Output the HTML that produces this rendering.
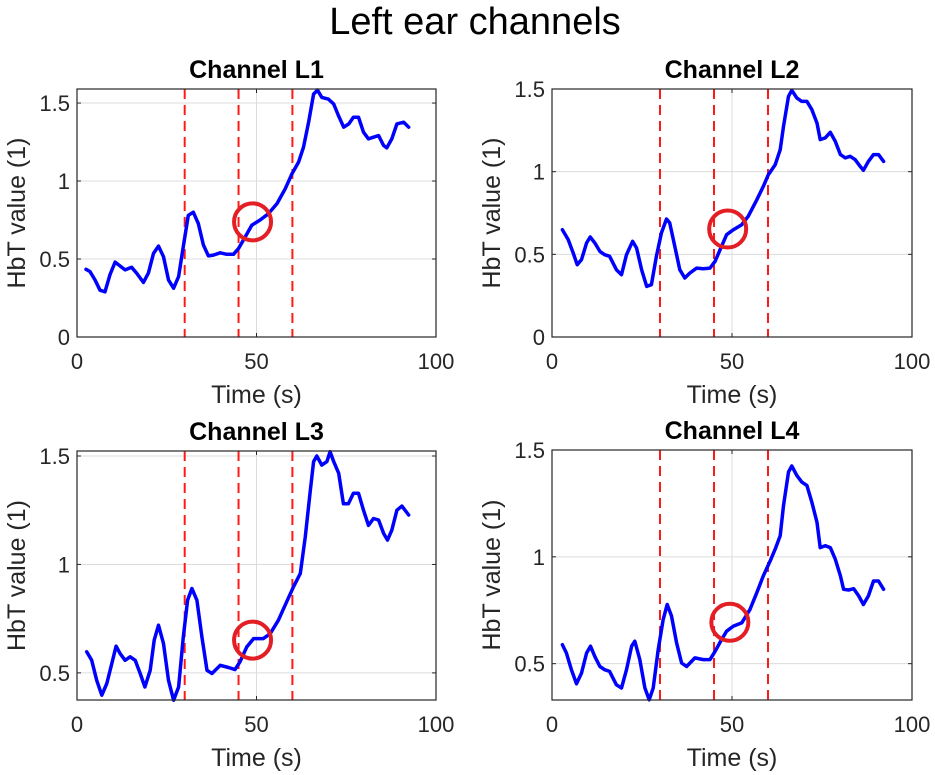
<!DOCTYPE html>
<html><head><meta charset="utf-8"><style>
html,body{margin:0;padding:0;background:#fff;}
svg{display:block;font-family:"Liberation Sans",Arial,sans-serif;}
</style></head><body>
<svg id="fig" width="935" height="775" viewBox="0 0 935 775">
<text x="475" y="34" text-anchor="middle" font-size="38" fill="#000">Left ear channels</text>
</svg>
<script>
const xTicks = [0, 50, 100];
const markers = [30, 45, 60];
// Channel L1
const l1Time = [2.5,3.6,5,6.4,7.8,9.2,10.6,12,13.4,15.2,16.6,18.5,19.9,21.3,22.7,24.1,25.5,26.9,28.3,29.6,31,32.4,33.8,35.2,36.6,38,39.9,41.7,43.6,45,46.8,48.7,51,53.3,55.7,58,59.9,61.7,63.1,64.5,65.9,67,68.2,70,71.5,72.8,74.3,75.7,77,78.4,79.8,81.2,82.6,84,85.4,86.3,87.7,89.1,91,92.4];
const l1Value = [0.434,0.42,0.366,0.3,0.29,0.4,0.48,0.455,0.43,0.447,0.41,0.35,0.41,0.536,0.583,0.515,0.366,0.313,0.387,0.58,0.78,0.8,0.728,0.59,0.52,0.525,0.54,0.53,0.53,0.568,0.64,0.717,0.75,0.79,0.855,0.95,1.047,1.12,1.217,1.377,1.557,1.583,1.536,1.525,1.494,1.42,1.345,1.366,1.409,1.409,1.313,1.27,1.281,1.291,1.228,1.213,1.27,1.366,1.377,1.345];
// Channel L2
const l2Time = [2.9,4.5,5.9,7,8.2,9.6,10.6,11.9,13.3,14.6,16,17.9,19.3,20.7,22.4,23.5,24.9,26.3,27.6,29,30.4,31.8,32.7,34.1,35.5,36.9,38.3,40.2,42,43.9,45.3,46.7,48.5,50.4,52.7,54.5,56.9,58.7,60.1,62,63.4,64.3,65.7,66.6,68,69.4,70.8,72.2,73.6,74.5,75.9,77.3,78.7,80.1,81.5,82.8,84.2,85.6,86.5,87.9,89.3,90.7,92.1];
const l2Value = [0.649,0.589,0.508,0.4375,0.468,0.569,0.605,0.569,0.518,0.498,0.488,0.407,0.377,0.498,0.579,0.538,0.407,0.306,0.3165,0.488,0.629,0.714,0.69,0.548,0.407,0.357,0.387,0.417,0.413,0.417,0.458,0.528,0.619,0.649,0.679,0.73,0.83,0.911,0.982,1.042,1.133,1.274,1.456,1.492,1.446,1.425,1.425,1.375,1.294,1.194,1.204,1.238,1.183,1.103,1.083,1.093,1.073,1.032,1.008,1.062,1.103,1.103,1.062];
// Channel L3
const l3Time = [2.7,4.1,5.5,6.9,8.3,9.7,10.9,12,13.4,14.8,16.2,17.6,18.9,20.4,21.5,22.7,24.1,25.5,26.9,28.3,29.6,30.8,32,33.4,34.8,36.2,37.6,39.9,42.2,44,45.4,47.3,49.2,51.9,53.8,56.1,58.4,60.3,62.2,63.6,64.9,65.9,66.8,68.2,69.6,70.5,71.5,72.9,74.2,75.6,77,78.4,79.8,81.2,82.6,84,85.4,86.5,87.7,89.1,90.5,92.4];
const l3Value = [0.597,0.558,0.466,0.397,0.451,0.543,0.623,0.589,0.558,0.574,0.558,0.497,0.435,0.512,0.651,0.72,0.635,0.466,0.374,0.435,0.666,0.835,0.889,0.835,0.666,0.512,0.497,0.535,0.525,0.515,0.551,0.62,0.658,0.658,0.68,0.743,0.828,0.897,0.958,1.128,1.328,1.474,1.5,1.458,1.474,1.52,1.474,1.42,1.28,1.28,1.328,1.328,1.25,1.18,1.212,1.205,1.143,1.112,1.158,1.25,1.269,1.228];
// Channel L4
const l4Time = [2.9,4,5.4,6.8,8.2,9.6,10.7,11.9,13.3,14.6,16,17.9,19.3,20.7,22.1,23,24.4,25.8,27,28.1,29.5,30.9,32,33.2,34.6,36,37.4,39.7,42,43.9,45.3,47.1,48.5,50.4,52.7,55,56.9,58.7,60.6,62,63.4,64.3,65.7,66.6,68,69.4,70.8,72.2,73.6,74.5,75.9,77.3,78.7,80.1,81,82.4,83.8,85.2,86.5,87.9,89.3,90.7,92.1];
const l4Value = [0.589,0.55,0.472,0.406,0.456,0.55,0.582,0.534,0.487,0.472,0.464,0.401,0.386,0.472,0.582,0.605,0.519,0.386,0.331,0.386,0.566,0.707,0.777,0.723,0.597,0.503,0.487,0.527,0.519,0.519,0.558,0.613,0.652,0.676,0.691,0.754,0.832,0.911,0.981,1.036,1.099,1.24,1.397,1.425,1.381,1.35,1.334,1.255,1.161,1.043,1.052,1.043,0.989,0.911,0.848,0.845,0.851,0.817,0.777,0.817,0.887,0.887,0.848];
const circleX = [48.9, 48.8, 48.9, 49.4];
const circleY = [0.738, 0.653, 0.651, 0.694];
const titles = ["Channel L1","Channel L2","Channel L3","Channel L4"];
const yTicks1 = [0, 0.5, 1, 1.5];
const yTicks2 = [0.5, 1, 1.5];

const NS = "http://www.w3.org/2000/svg";
const fig = document.getElementById("fig");
function mk(tag, attrs, parent){
  const e = document.createElementNS(NS, tag);
  for (const k in attrs) e.setAttribute(k, attrs[k]);
  (parent||fig).appendChild(e);
  return e;
}
const panels = [
  {l:77,r:436,t:89,b:337,y0:0,y1:1.59,ticks:yTicks1,tx:l1Time,ty:l1Value},
  {l:552,r:912,t:89,b:337,y0:0,y1:1.5,ticks:yTicks1,tx:l2Time,ty:l2Value},
  {l:77,r:436,t:451,b:700,y0:0.375,y1:1.523,ticks:yTicks2,tx:l3Time,ty:l3Value},
  {l:552,r:912,t:450,b:700,y0:0.33,y1:1.5,ticks:yTicks2,tx:l4Time,ty:l4Value}
];
panels.forEach((p, i) => {
  const g = mk("g", {});
  
  
  const sx = v => p.l + (v - 0) / 100 * (p.r - p.l);
  const sy = v => p.b - (v - p.y0) / (p.y1 - p.y0) * (p.b - p.t);
  xTicks.forEach(v => {
    const ln = mk("line", {x1:sx(v),x2:sx(v),y1:p.t,y2:p.b,stroke:"#dcdcdc","stroke-width":1}, g);
    
    
    const t = mk("text", {x:sx(v), y:p.b+32, "text-anchor":"middle","font-size":22,fill:"#262626"}, g);
    t.textContent = v;
    
    
    mk("line", {x1:sx(v),x2:sx(v),y1:p.b,y2:p.b-4,stroke:"#262626"}, g);
    mk("line", {x1:sx(v),x2:sx(v),y1:p.t,y2:p.t+4,stroke:"#262626"}, g);
  });
  p.ticks.forEach(v => {
    const ln = mk("line", {x1:p.l,x2:p.r,y1:sy(v),y2:sy(v),stroke:"#dcdcdc","stroke-width":1}, g);
    
    
    const t = mk("text", {x:p.l-7, y:sy(v)+8, "text-anchor":"end","font-size":22,fill:"#262626"}, g);
    t.textContent = v;
    
    
    mk("line", {x1:p.l,x2:p.l+4,y1:sy(v),y2:sy(v),stroke:"#262626"}, g);
    mk("line", {x1:p.r,x2:p.r-4,y1:sy(v),y2:sy(v),stroke:"#262626"}, g);
  });
  markers.forEach(v => {
    const ln = mk("line", {x1:sx(v),x2:sx(v),y1:p.t,y2:p.b,stroke:"#ff1a1a","stroke-width":2,"stroke-dasharray":"10 6"}, g);
    
    
  });
  const pts = p.tx.map((x, k) => sx(x).toFixed(1) + "," + sy(p.ty[k]).toFixed(1)).join(" ");
  const pl = mk("polyline", {points:pts, fill:"none", stroke:"#0000ff","stroke-width":3.5,"stroke-linejoin":"round","stroke-linecap":"round"}, g);
  
  
  const c = mk("circle", {cx:sx(circleX[i]), cy:sy(circleY[i]), r:18.5, fill:"none", stroke:"#e31e24","stroke-width":4}, g);
  
  
  const bx = mk("rect", {x:p.l, y:p.t, width:p.r-p.l, height:p.b-p.t, fill:"none", stroke:"#262626","stroke-width":1.2}, g);
  
  
  const tt = mk("text", {x:(p.l+p.r)/2, y:p.t-11, "text-anchor":"middle","font-size":25,"font-weight":"bold",fill:"#000"}, g);
  tt.textContent = titles[i];
  
  
  const xl = mk("text", {x:(p.l+p.r)/2, y:p.b+66, "text-anchor":"middle","font-size":25,fill:"#262626"}, g);
  xl.textContent = "Time (s)";
  
  
  const cy = (p.t+p.b)/2;
  const yl = mk("text", {x:0, y:0, transform:"translate(" + (p.l-52) + "," + cy + ") rotate(-90)", "text-anchor":"middle","font-size":25,fill:"#262626"}, g);
  yl.textContent = "HbT value (1)";
  
  
});
</script>
</body></html>
